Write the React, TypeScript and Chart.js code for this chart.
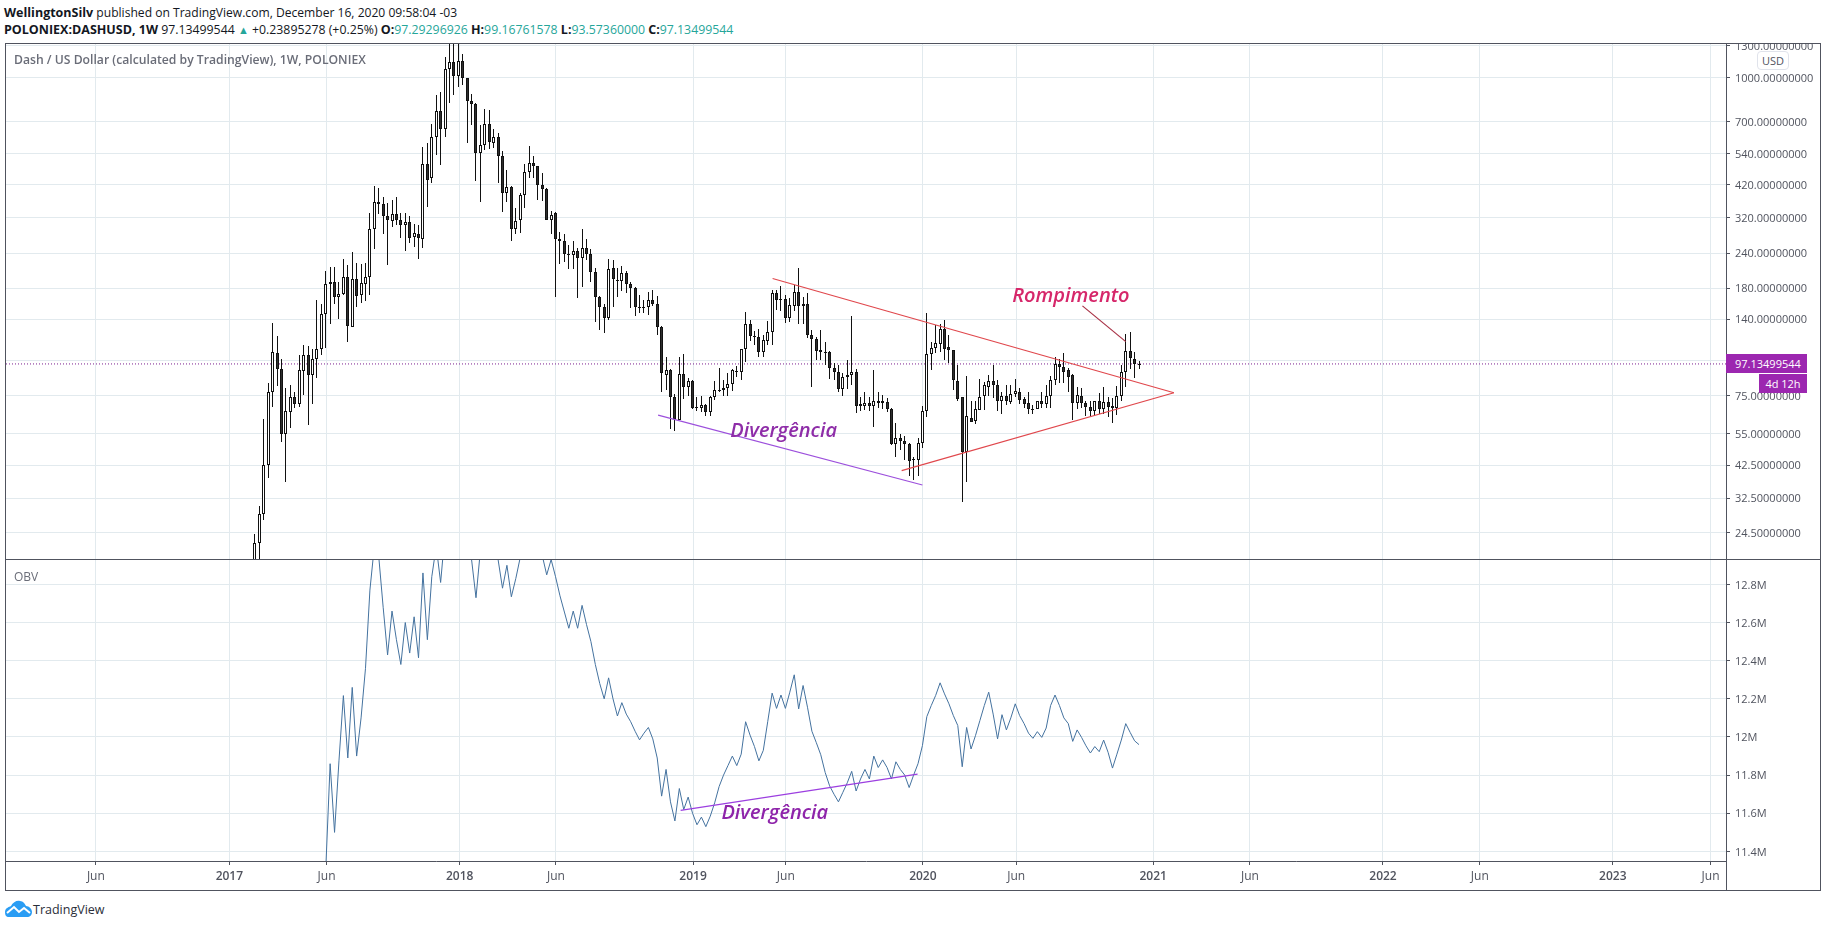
import { Chart, registerables } from "chart.js";
import React, { useEffect, useRef } from "react";

Chart.register(...registerables);

// weekly candles, the first one sits at week 0
const candleOpen = [
  19, 22.5, 28.5, 42.5, 77, 106, 93, 54.7, 65.7, 74,
  70, 92, 104.5, 88.5, 101, 109.6, 146, 190, 190, 167,
  172, 197, 131.6, 194, 171, 187, 198, 292, 363, 357,
  324, 311, 329, 313, 301, 308, 274, 280, 270, 494,
  441, 617, 762, 660, 1080, 1143, 1019, 1152, 997, 827,
  807, 544, 577, 687, 588, 617, 528, 393, 411, 291,
  313, 384, 466, 499, 486, 417, 403, 315, 332, 270,
  264, 238, 236, 243, 231, 251, 239, 206, 168, 154,
  141, 213, 191, 191, 204, 187, 180, 155, 153, 155,
  164, 159, 131, 89, 92.5, 74.4, 61.6, 89.6, 80.6, 84.4,
  68.6, 68, 69.6, 65.5, 74.2, 78.8, 78.8, 80, 82.3, 92,
  91, 110, 135, 122, 121, 107, 117, 126, 173, 164.7,
  164.7, 141, 156, 174, 158, 158, 122.6, 119, 108.5, 107,
  107, 94.3, 91, 79.5, 87.4, 89, 90.7, 69.8, 69, 70.5,
  69, 72, 71.6, 71, 67.4, 50.4, 53, 51.8, 50.7, 44.8,
  44.4, 51, 66, 105.5, 111, 114, 129, 111.5, 108.5, 84.4,
  74, 47.5, 62.5, 60.8, 66.6, 74.5, 80.6, 84.4, 81.8, 72,
  75, 71.5, 76.3, 77.5, 73, 70.4, 67.3, 67, 72, 70,
  75, 85, 97, 95, 92.5, 88.4, 70.5, 75, 70.4, 68.6,
  66, 72, 67.3, 71, 69, 67.8, 75, 90.7, 108, 101, 97.29296926,
];
const candleHigh = [
  24.3, 30.5, 62, 83, 136, 122, 101, 80, 81.5, 77,
  104.5, 113, 112, 109.5, 163.5, 158, 207, 214, 214, 190,
  229, 217, 241, 221, 219, 222, 332, 413, 407, 378,
  360, 371, 378, 332, 333, 324, 305, 301, 568, 590,
  687, 871, 893, 1183, 1400, 1400, 1400, 1220, 997, 881,
  814, 680, 775, 769, 657, 638, 553, 472, 413, 345,
  393, 494, 573, 530, 487, 462, 407, 337, 335, 284,
  280, 256, 264, 249, 293, 268, 248, 213, 169, 158,
  229, 226, 213, 216, 207, 190, 182, 171, 164, 175,
  177, 169, 132, 103, 93, 76, 103, 105, 86.5, 85,
  74.4, 75, 70, 75, 84.2, 94.3, 85, 90, 93, 95.6,
  110, 148, 139, 127, 129, 123, 138, 178, 177, 183,
  171, 166, 185, 213, 167, 173, 128, 121, 128, 116,
  108, 98, 96, 90, 100, 144, 93, 74.4, 77, 74,
  92.5, 77.3, 75.6, 73.6, 68, 60, 55, 54, 51, 45.5,
  53, 69, 147, 116, 133, 134, 139, 123, 109, 96,
  74, 87.7, 72, 72, 86, 83.8, 89, 96, 85.5, 77,
  82, 82, 86, 80, 74.4, 77, 69.6, 72, 77, 81.7,
  88.2, 103, 101, 106, 94, 89.3, 80.5, 80, 71.6, 72,
  72, 76.5, 80.6, 74, 73.4, 81.3, 96, 124, 126, 107, 99.16761578,
];
const candleLow = [
  18, 19.6, 27.2, 38.2, 68.5, 81, 51.5, 37.2, 57.7, 68,
  68.5, 75.6, 59, 70, 86.4, 104.5, 110.6, 134, 158, 140,
  170, 116.5, 131, 155, 160, 162, 170, 248, 329, 280,
  217, 296, 301, 271, 244, 260, 253, 229, 249, 350,
  423, 535, 491, 619, 816, 871, 931, 946, 590, 681,
  430, 365, 556, 559, 564, 425, 334, 365, 265, 280,
  283, 347, 441, 444, 369, 366, 313, 280, 168, 219,
  223, 210, 211, 166, 182, 226, 190, 137, 128, 125,
  139, 154, 168, 176, 173, 153, 144, 147, 147, 145,
  156, 123, 77, 78.5, 57, 56, 61.6, 73.2, 74.8, 67,
  66, 65.5, 63.5, 63.3, 72.6, 77, 75, 75, 78, 87.4,
  85, 99, 117, 113, 103, 103, 113, 113, 151, 150,
  136, 137, 149, 134, 134, 120, 80.6, 100, 100, 96,
  86, 85, 77, 75, 79, 82, 65, 66, 66.6, 66,
  58, 68, 67, 65.5, 50, 45.5, 48, 44.4, 39, 37.8,
  39, 49, 63, 92.5, 106, 107, 100, 98, 78.6, 72,
  31.5, 37, 60.5, 59.3, 66.6, 66.6, 75, 73.6, 66, 64.6,
  69.6, 70, 74.4, 70, 67.7, 64.6, 64.6, 67, 68, 68,
  68, 82, 83, 83, 77, 61.5, 67.4, 67.7, 63.7, 63.7,
  63.7, 64.6, 64.6, 63, 60, 64, 72, 80.6, 93, 86.5, 93.5736,
];
const candleClose = [
  22.6, 28.5, 42.5, 77, 107, 93, 55, 66, 74, 70,
  92.5, 104.5, 89, 101, 109.6, 146, 187, 187, 167, 172,
  197, 132, 194, 169, 188, 197, 292, 363, 357, 324,
  313, 329, 313, 301, 308, 271, 283, 271, 494, 437,
  617, 762, 660, 1080, 1140, 1019, 1152, 997, 827, 807,
  544, 577, 687, 591, 617, 528, 393, 411, 291, 311,
  384, 466, 499, 486, 417, 403, 315, 328, 270, 264,
  239, 236, 243, 231, 249, 239, 206, 168, 154, 141,
  211, 194, 192, 204, 187, 180, 155, 153, 155, 164,
  159, 131, 90, 92.5, 74, 62, 89.6, 80.6, 84.4, 68,
  68, 69.6, 65.5, 74.4, 78.3, 77.7, 80, 82.3, 92.5, 91,
  110, 135, 122, 121, 107, 118, 126, 173, 163, 164,
  141, 157, 174, 156, 156, 123, 119, 108, 107, 106.5,
  94.3, 91, 79.5, 87.4, 88.7, 90.7, 69, 69, 70.5, 69,
  72, 70.7, 70.7, 67, 50.4, 53, 51.8, 50.4, 44, 44.6,
  51, 66, 105.7, 111, 115, 129, 110, 108.5, 85, 73,
  47.5, 63.5, 60.5, 67, 74, 81.5, 84.4, 81.8, 72, 75,
  71.6, 76.3, 78, 72.3, 69.8, 67.3, 67, 72, 70, 75,
  85.2, 97, 95, 91, 87.4, 70.5, 75.7, 70.5, 68.5, 66,
  71.6, 67.3, 71, 68.2, 67.8, 75, 90.7, 108, 102, 97.3, 97.13499544,
];

// OBV in millions, starts at week 16
const obvFirstWeek = 16;
const obvValues = [
  11.3, 11.86, 11.5, 11.875, 12.217, 11.89, 12.26, 11.9, 12.1, 12.36,
  12.77, 13.0, 12.945, 12.68, 12.43, 12.66, 12.51, 12.38, 12.6, 12.44,
  12.63, 12.415, 12.86, 12.51, 12.84, 13.0, 12.81, 13.07, 13.1, 13.1,
  13.1, 13.05, 13.0, 12.93, 12.73, 12.98, 13.1, 13.1, 13.05, 12.93,
  12.78, 12.9, 12.735, 12.83, 12.94, 13.0, 13.1, 13.1, 13.05, 12.95,
  12.85, 12.93, 12.84, 12.74, 12.655, 12.57, 12.66, 12.57, 12.69, 12.59,
  12.5, 12.38, 12.28, 12.2, 12.31, 12.2, 12.11, 12.18, 12.12, 12.08,
  12.03, 11.985, 12.02, 12.05, 11.99, 11.89, 11.69, 11.83, 11.66, 11.56,
  11.73, 11.62, 11.685, 11.6, 11.54, 11.58, 11.53, 11.585, 11.655, 11.74,
  11.8, 11.85, 11.9, 11.85, 11.91, 12.08, 12.01, 11.95, 11.875, 11.93,
  12.08, 12.23, 12.15, 12.22, 12.15, 12.235, 12.326, 12.147, 12.27, 12.156,
  12.03, 11.97, 11.907, 11.814, 11.744, 11.7, 11.66, 11.71, 11.76, 11.82,
  11.717, 11.78, 11.83, 11.78, 11.9, 11.84, 11.88, 11.84, 11.78, 11.87,
  11.83, 11.8, 11.735, 11.8, 11.86, 11.955, 12.107, 12.165, 12.218, 12.284,
  12.226, 12.174, 12.112, 12.06, 11.844, 12.05, 11.937, 12.007, 12.086, 12.165,
  12.235, 12.12, 11.99, 12.117, 12.037, 12.1, 12.174, 12.112, 12.07, 12.02,
  11.993, 12.028, 11.998, 12.047, 12.165, 12.22, 12.165, 12.1, 12.07, 11.977,
  12.037, 11.998, 11.954, 11.916, 11.95, 11.923, 11.984, 11.92, 11.837, 11.91,
  11.984, 12.07, 12.024, 11.98, 11.96,
];

const priceTicks = [1300, 1000, 700, 540, 420, 320, 240, 180, 140, 100, 75, 55, 42.5, 32.5, 24.5];
const priceTickLabels = [
  "1300.00000000", "1000.00000000", "700.00000000", "540.00000000", "420.00000000",
  "320.00000000", "240.00000000", "180.00000000", "140.00000000", "",
  "75.00000000", "55.00000000", "42.50000000", "32.50000000", "24.50000000",
];
const obvTicks = [12.8, 12.6, 12.4, 12.2, 12, 11.8, 11.6, 11.4];
const obvTickLabels = ["12.8M", "12.6M", "12.4M", "12.2M", "12M", "11.8M", "11.6M", "11.4M"];

const timeTicks = [-36, -5.8, 16.2, 46.3, 68.1, 99.1, 120.1, 151.1, 172.2, 203.2, 225.1, 255.2, 277.1, 307.2, 329.3];
const timeTickLabels = [
  "Jun", "2017", "Jun", "2018", "Jun", "2019", "Jun", "2020", "Jun", "2021", "Jun", "2022", "Jun", "2023", "Jun",
];

const lastPrice = 97.13499544;

// drawings: [week, value] pairs
const upperTrend = [[117.1, 195], [207.9, 76.8]];
const lowerTrend = [[146.3, 40.7], [207.9, 76.8]];
const priceDivergence = [[91.2, 64], [151, 36.2]];
const breakoutPointer = [[187.2, 156], [197, 116.5]];
const obvDivergence = [[96.3, 11.615], [149.9, 11.805]];

const priceNotes = [
  { text: "Divergência", week: 119.6, value: 56.3, color: "#8e2da8" },
  { text: "Rompimento", week: 184.6, value: 168, color: "#d6276a" },
];
const obvNotes = [{ text: "Divergência", week: 117.6, value: 11.598, color: "#8e24aa" }];

const weekMin = -56.33;
const weekMax = 332.8;
const AXIS_COLOR = "#50535e";
const GRID_COLOR = "#e2eaee";
const FONT = "'Open Sans', sans-serif";

const toPoints = (pairs: number[][]) => pairs.map(([x, y]) => ({ x, y }));

const drawing = (pairs: number[][], color: string, width = 1.2) => ({
  type: "line" as const,
  data: toPoints(pairs),
  borderColor: color,
  borderWidth: width,
  pointRadius: 0,
  order: 1,
});

// keeps the candles on whole pixels so they stay sharp
const snapBars = {
  id: "snapBars",
  afterDatasetsUpdate(chart: any) {
    chart.data.datasets.forEach((_: any, i: number) => {
      const meta = chart.getDatasetMeta(i);
      if (meta.type !== "bar") return;
      meta.data.forEach((el: any) => {
        el.x = Math.floor(el.x) + 0.5;
        el.y = Math.round(el.y);
        el.base = Math.round(el.base);
        if (el.y === el.base) el.base += 1;
      });
    });
  },
};

const notesPlugin = (notes: typeof priceNotes) => ({
  id: "notes",
  afterDatasetsDraw(chart: any) {
    const { ctx, scales } = chart;
    ctx.save();
    ctx.textAlign = "center";
    ctx.textBaseline = "middle";
    ctx.font = `italic 600 20px ${FONT}`;
    notes.forEach((n) => {
      ctx.fillStyle = n.color;
      ctx.fillText(n.text, scales.x.getPixelForValue(n.week), scales.y.getPixelForValue(n.value));
    });
    ctx.restore();
  },
});

const xScale = (showLabels: boolean) => ({
  type: "linear" as const,
  min: weekMin,
  max: weekMax,
  offset: false,
  grid: { color: GRID_COLOR, offset: false, drawTicks: showLabels, tickLength: 4, tickColor: AXIS_COLOR },
  border: { display: showLabels, color: AXIS_COLOR },
  afterBuildTicks: (scale: any) => {
    scale.ticks = timeTicks.map((value) => ({ value }));
  },
  afterFit: (scale: any) => {
    scale.paddingLeft = 0;
    scale.paddingRight = 0;
    scale.height = showLabels ? 29 : 0;
  },
  ticks: {
    display: showLabels,
    autoSkip: false,
    maxRotation: 0,
    padding: 4,
    color: AXIS_COLOR,
    font: (ctx: any) => ({
      family: FONT,
      size: 12,
      weight: /^\d/.test(timeTickLabels[ctx.index] ?? "") ? 600 : 400,
    }),
    callback: (_: any, index: number) => timeTickLabels[index],
  },
});

const yTicks = (values: number[], labels: string[]) => ({
  position: "right" as const,
  grid: { color: GRID_COLOR, tickLength: 4, tickColor: AXIS_COLOR },
  border: { display: false },
  afterBuildTicks: (scale: any) => {
    scale.ticks = values.map((value) => ({ value }));
  },
  afterFit: (scale: any) => {
    scale.width = 94;
    scale.paddingTop = 0;
    scale.paddingBottom = 0;
  },
  ticks: {
    autoSkip: false,
    padding: 5,
    labelOffset: 1,
    color: AXIS_COLOR,
    font: { family: FONT, size: 11 },
    callback: (_: any, index: number) => labels[index],
  },
});

const PriceChart: React.FC = () => {
  const canvasRef = useRef<HTMLCanvasElement>(null);

  useEffect(() => {
    if (!canvasRef.current) return;
    const weeks = candleOpen.map((_, i) => i);
    const chart = new Chart(canvasRef.current, {
      type: "bar",
      data: {
        datasets: [
          {
            label: "Wick",
            data: weeks.map((x) => ({ x, y: [candleLow[x], candleHigh[x]] })),
            backgroundColor: "#111111",
            borderWidth: 0,
            barThickness: 1,
            grouped: false,
            inflateAmount: 0,
            order: 3,
          },
          {
            label: "Body",
            data: weeks.map((x) => ({ x, y: [candleOpen[x], candleClose[x]] })),
            backgroundColor: weeks.map((x) => (candleClose[x] >= candleOpen[x] ? "#ffffff" : "#2e2e2e")),
            borderColor: "#111111",
            borderWidth: 1,
            borderSkipped: false,
            barThickness: 3,
            grouped: false,
            inflateAmount: 0,
            order: 2,
          },
          {
            type: "line",
            label: "Last price",
            data: toPoints([[weekMin, lastPrice], [weekMax, lastPrice]]),
            borderColor: "#7b1f8f",
            borderWidth: 1,
            borderDash: [1, 2],
            pointRadius: 0,
            order: 4,
          },
          drawing(upperTrend, "#e0474c"),
          drawing(lowerTrend, "#e0474c"),
          drawing(priceDivergence, "#9c4fdc"),
          drawing(breakoutPointer, "#a83246", 1.2),
        ] as any,
      },
      options: {
        responsive: false,
        animation: false,
        events: [],
        layout: { padding: { left: 6, right: 6, top: 0, bottom: 0 } },
        plugins: { legend: { display: false }, tooltip: { enabled: false } },
        scales: {
          x: xScale(false),
          y: { type: "logarithmic", min: 19.8, max: 1330, ...yTicks(priceTicks, priceTickLabels) },
        } as any,
      },
      plugins: [snapBars, notesPlugin(priceNotes)],
    });
    return () => chart.destroy();
  }, []);

  return <canvas ref={canvasRef} width={1826} height={516} style={{ position: "absolute", left: 0, top: 43 }} />;
};

const ObvChart: React.FC = () => {
  const canvasRef = useRef<HTMLCanvasElement>(null);

  useEffect(() => {
    if (!canvasRef.current) return;
    const chart = new Chart(canvasRef.current, {
      type: "line",
      data: {
        datasets: [
          {
            label: "OBV",
            data: obvValues.map((y, i) => ({ x: obvFirstWeek + i, y })),
            borderColor: "#44729f",
            borderWidth: 1,
            pointRadius: 0,
            order: 2,
          },
          drawing(obvDivergence, "#9c3fe0"),
        ],
      },
      options: {
        responsive: false,
        animation: false,
        events: [],
        layout: { padding: { left: 6, right: 6, top: 0, bottom: 0 } },
        plugins: { legend: { display: false }, tooltip: { enabled: false } },
        scales: {
          x: xScale(true),
          y: { type: "linear", min: 11.35, max: 12.933, ...yTicks(obvTicks, obvTickLabels) },
        } as any,
      },
      plugins: [notesPlugin(obvNotes)],
    });
    return () => chart.destroy();
  }, []);

  return <canvas ref={canvasRef} width={1826} height={331} style={{ position: "absolute", left: 0, top: 559 }} />;
};

const line = (left: number, top: number, width: number, height: number): React.CSSProperties => ({
  position: "absolute",
  left,
  top,
  width,
  height,
  background: AXIS_COLOR,
});

const teal = { color: "#26a69a" };
const bold = { fontWeight: 700, fontSize: 12.5 };

const App: React.FC = () => (
  <div
    style={{
      position: "absolute",
      left: 0,
      top: 0,
      width: 1826,
      height: 925,
      background: "#fff",
      overflow: "hidden",
      fontFamily: FONT,
      color: "#131722",
    }}
  >
    <div style={{ position: "absolute", left: 4, top: 4, fontSize: 12.1, whiteSpace: "nowrap" }}>
      <span style={bold}>WellingtonSilv</span> published on TradingView.com, December 16, 2020 09:58:04 -03
    </div>
    <div style={{ position: "absolute", left: 4, top: 21, fontSize: 12.3, whiteSpace: "nowrap" }}>
      <span style={bold}>POLONIEX:DASHUSD, 1W</span> 97.13499544 <span style={{ ...teal, fontSize: 11 }}>▲</span>{" "}
      +0.23895278 (+0.25%) <span style={bold}>O:</span>
      <span style={teal}>97.29296926</span> <span style={bold}>H:</span>
      <span style={teal}>99.16761578</span> <span style={bold}>L:</span>
      <span style={teal}>93.57360000</span> <span style={bold}>C:</span>
      <span style={teal}>97.13499544</span>
    </div>

    <PriceChart />
    <ObvChart />

    <div style={line(5, 43, 1816, 1)} />
    <div style={line(5, 890, 1816, 1)} />
    <div style={line(5, 43, 1, 847)} />
    <div style={line(1820, 43, 1, 847)} />
    <div style={line(1726, 43, 1, 847)} />
    <div style={line(5, 559, 1816, 1)} />

    <div style={{ position: "absolute", left: 14, top: 51, fontSize: 12.2, fontWeight: 600, color: "#6a6d78", whiteSpace: "nowrap" }}>
      Dash / US Dollar (calculated by TradingView), 1W, POLONIEX
    </div>
    <div style={{ position: "absolute", left: 14, top: 568, fontSize: 12, color: "#6a6d78" }}>OBV</div>

    <div
      style={{
        position: "absolute",
        left: 1757,
        top: 51,
        width: 30,
        height: 17,
        lineHeight: "17px",
        border: "1px solid #e0e3eb",
        borderRadius: 4,
        background: "#fff",
        textAlign: "center",
        fontSize: 11,
        color: AXIS_COLOR,
      }}
    >
      USD
    </div>
    <div
      style={{
        position: "absolute",
        left: 1726,
        top: 354,
        width: 81,
        height: 19,
        lineHeight: "19px",
        background: "#9c27b0",
        color: "#fff",
        fontSize: 11,
        paddingLeft: 9,
        boxSizing: "border-box",
      }}
    >
      97.13499544
    </div>
    <div
      style={{
        position: "absolute",
        left: 1759,
        top: 374,
        width: 48,
        height: 19,
        lineHeight: "19px",
        background: "#9c27b0",
        color: "#fff",
        fontSize: 11,
        textAlign: "center",
      }}
    >
      4d 12h
    </div>

    <svg style={{ position: "absolute", left: 5, top: 900 }} width={27} height={17} viewBox="0 0 27 17">
      <path
        d="M0 12 C0 8 4 7 6 6 C8 2 12 0 15 1 C18 1 20 4 21 6 C24 6 27 9 27 12 C27 15 25 17 22 17 L4 17 C1 17 0 15 0 12 Z"
        fill="#2a9df4"
      />
      <path d="M2 13 L9 7 L14 12 L19 8 L25 13" fill="none" stroke="#fff" strokeWidth={2} />
    </svg>
    <div style={{ position: "absolute", left: 33, top: 901, fontSize: 12.5, color: "#2a2e39" }}>TradingView</div>
  </div>
);

export default App;
